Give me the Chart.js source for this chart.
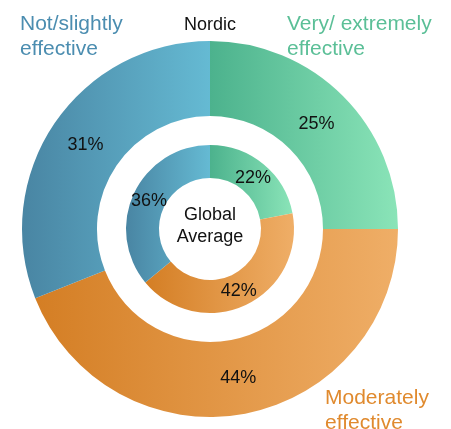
<!DOCTYPE html>
<html>
<head>
<meta charset="utf-8">
<script src="https://cdn.jsdelivr.net/npm/chart.js@4/dist/chart.umd.min.js"></script>
<style>
  html, body { margin: 0; padding: 0; background: #ffffff; }
  #wrap { width: 451px; height: 429px; position: relative; }
</style>
</head>
<body>
<div id="wrap"><canvas id="c" width="451" height="429"></canvas></div>
<script>
// ---- data ----
const categories = [
  ['Very/ extremely', 'effective'],
  ['Moderately', 'effective'],
  ['Not/slightly', 'effective']
];
const nordicValues = [25, 44, 31];
const globalValues = [22, 42, 36];
const ringNames = ['Nordic', ['Global', 'Average']];

// ---- styles ----
const FONT = '"Liberation Sans", Arial, Helvetica, sans-serif';
const gradStops = [
  ['#4cb28d', '#8ae4b8'],   // green
  ['#d47e24', '#efae67'],   // orange
  ['#4985a3', '#65bad3']    // blue
];
const labelColors = ['#5bbf97', '#e08a2e', '#4b8db0'];
const W_OUT = 75, W_GAP = 29, W_IN = 33;
const CUTOUT = 51 / 188;

function ringRadii(chart, which) {
  const a = chart.chartArea;
  const R = Math.min(a.right - a.left, a.bottom - a.top) / 2;
  const rInner = R * CUTOUT;
  const unit = (R - rInner) / (W_OUT + W_GAP + W_IN);
  if (which === 0) return [R - W_OUT * unit, R];
  const ro = R - (W_OUT + W_GAP) * unit;
  return [ro - W_IN * unit, ro];
}

function sliceColor(values, ring) {
  return function (ctx) {
    const chart = ctx.chart;
    const i = ctx.dataIndex;
    if (!chart.chartArea) return gradStops[i][1];
    const a = chart.chartArea;
    const cx = (a.left + a.right) / 2;
    const total = values.reduce((s, v) => s + v, 0);
    let before = 0;
    for (let k = 0; k < i; k++) before += values[k];
    const s = -Math.PI / 2 + before / total * 2 * Math.PI;
    const e = s + values[i] / total * 2 * Math.PI;
    const [ri, ro] = ringRadii(chart, ring);
    let minX = Infinity, maxX = -Infinity;
    for (let t = 0; t <= 60; t++) {
      const ang = s + (e - s) * t / 60;
      for (const r of [ri, ro]) {
        const x = cx + r * Math.cos(ang);
        minX = Math.min(minX, x); maxX = Math.max(maxX, x);
      }
    }
    const g = chart.ctx.createLinearGradient(minX, 0, maxX, 0);
    g.addColorStop(0, gradStops[i][0]);
    g.addColorStop(1, gradStops[i][1]);
    return g;
  };
}

const textPlugin = {
  id: 'texts',
  afterDatasetsDraw(chart) {
    const c = chart.ctx;
    c.save();
    // percentage labels
    c.font = '18px ' + FONT;
    c.fillStyle = '#111111';
    c.textAlign = 'center';
    c.textBaseline = 'middle';
    [0, 2].forEach(di => {
      const meta = chart.getDatasetMeta(di);
      const vals = chart.data.datasets[di].data;
      meta.data.forEach((arc, i) => {
        const p = arc.tooltipPosition();
        c.fillText(vals[i] + '%', p.x, p.y + 1);
      });
    });
    const a = chart.chartArea;
    const cx = (a.left + a.right) / 2, cy = (a.top + a.bottom) / 2;
    // centre text
    c.textBaseline = 'alphabetic';
    c.fillText(ringNames[1][0], cx, cy - 9);
    c.fillText(ringNames[1][1], cx, cy + 13);
    // ring title
    c.fillText(ringNames[0], cx, 30);
    // category labels
    c.font = '21px ' + FONT;
    c.textAlign = 'left';
    const pos = [[287, 30], [325, 404], [20, 30]];
    categories.forEach((lines, i) => {
      c.fillStyle = labelColors[i];
      lines.forEach((ln, j) => c.fillText(ln, pos[i][0], pos[i][1] + j * 24.5));
    });
    c.restore();
  }
};

new Chart(document.getElementById('c'), {
  type: 'doughnut',
  data: {
    labels: categories.map(l => l.join(' ')),
    datasets: [
      { label: 'Nordic', data: nordicValues, backgroundColor: sliceColor(nordicValues, 0), borderWidth: 0, weight: W_OUT },
      { label: 'gap', data: [1], backgroundColor: 'rgba(0,0,0,0)', borderWidth: 0, weight: W_GAP },
      { label: 'Global Average', data: globalValues, backgroundColor: sliceColor(globalValues, 2), borderWidth: 0, weight: W_IN }
    ]
  },
  options: {
    responsive: false,
    animation: false,
    cutout: (CUTOUT * 100) + '%',
    layout: { padding: { left: 22, right: 53, top: 41, bottom: 12 } },
    plugins: { legend: { display: false }, tooltip: { enabled: false }, title: { display: false } }
  },
  plugins: [textPlugin]
});
</script>
</body>
</html>
